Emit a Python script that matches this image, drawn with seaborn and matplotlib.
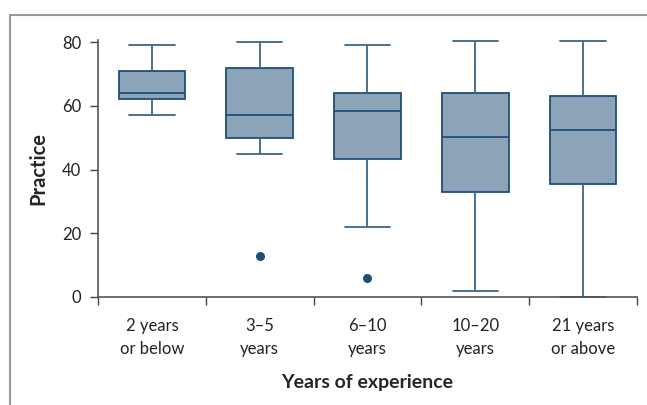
import matplotlib
matplotlib.use("Agg")
import matplotlib.pyplot as plt
from matplotlib.lines import Line2D
import numpy as np
import pandas as pd
import seaborn as sns

# Five-number summary per group
groups = ['2 years\nor below', '3–5\nyears', '6–10\nyears', '10–20\nyears', '21 years\nor above']
whisker_low = [57, 45, 22, 2, 0]
q1 = [62, 50, 43.4, 33, 35.6]
median = [64, 57, 58.4, 50.3, 52.5]
q3 = [71, 72, 64, 64, 63.2]
whisker_high = [79, 80, 79, 80.3, 80.3]

# outliers
outlier_groups = ['3–5\nyears', '6–10\nyears']
outlier_values = [13, 6]

FACE = '#8ca3b8'
EDGE = '#1f4e79'

rows = []
for g, a, b, c, d, e in zip(groups, whisker_low, q1, median, q3, whisker_high):
    for v in (a, b, c, d, e):
        rows.append({'group': g, 'Practice': v})
df = pd.DataFrame(rows)
df_out = pd.DataFrame({'group': outlier_groups, 'Practice': outlier_values})

sns.set_style('ticks')
plt.rcParams['font.family'] = ['Lato', 'DejaVu Sans']

fig = plt.figure(figsize=(6.47, 4.05), dpi=100)
ax = fig.add_axes([0.1515, 0.2667, 0.833, 0.634])

sns.boxplot(data=df, x='group', y='Practice', order=groups, ax=ax,
            color=FACE, linecolor=EDGE, linewidth=1.3, width=0.62,
            showfliers=False, saturation=1,
            whiskerprops={'color': '#3a6689'}, capprops={'color': '#3a6689'})
sns.stripplot(data=df_out, x='group', y='Practice', order=groups, ax=ax,
              jitter=False, color=EDGE, size=6.5, zorder=5)

# caps a bit wider than seaborn default
for line in ax.lines:
    xd = line.get_xdata()
    yd = line.get_ydata()
    if len(xd) == 2 and yd[0] == yd[1] and abs(xd[1] - xd[0]) > 0.2 and abs(xd[1] - xd[0]) < 0.4:
        cx = (xd[0] + xd[1]) / 2
        line.set_xdata([cx - 0.21, cx + 0.21])
        line.set_clip_on(False)

ax.set_xlim(-0.5, len(groups) - 0.5)
ax.set_ylim(0, 80.6)
ax.set_yticks([0, 20, 40, 60, 80])
ax.set_xticks(np.arange(-0.5, len(groups)), minor=True)
ax.tick_params(axis='x', which='major', length=0, pad=29, labelsize=12, colors='#222222')
ax.tick_params(axis='x', which='minor', length=6, width=1, color='#444444')
ax.tick_params(axis='y', length=6, width=1, color='#444444', labelsize=12, labelcolor='#222222', pad=6)
for lab in ax.get_xticklabels():
    lab.set_linespacing(1.55)
    lab.set_verticalalignment('center')
for s in ['top', 'right']:
    ax.spines[s].set_visible(False)
for s in ['left', 'bottom']:
    ax.spines[s].set_color('#555555')
    ax.spines[s].set_linewidth(1.2)

ax.set_xlabel('Years of experience', fontsize=14, fontweight='bold', labelpad=0)
ax.xaxis.set_label_coords(0.5, -0.30)
ax.set_ylabel('Practice', fontsize=14.5, fontweight='bold')
ax.yaxis.set_label_coords(-0.093, 0.5)

# outer frame of the original figure (left and top only)
fig.add_artist(Line2D([10 / 647, 10 / 647], [0, 1 - 15 / 405], color='#999999', lw=1.5))
fig.add_artist(Line2D([10 / 647, 1], [1 - 15 / 405, 1 - 15 / 405], color='#999999', lw=1.5))

fig.savefig('out.png', dpi=100, facecolor='white')
